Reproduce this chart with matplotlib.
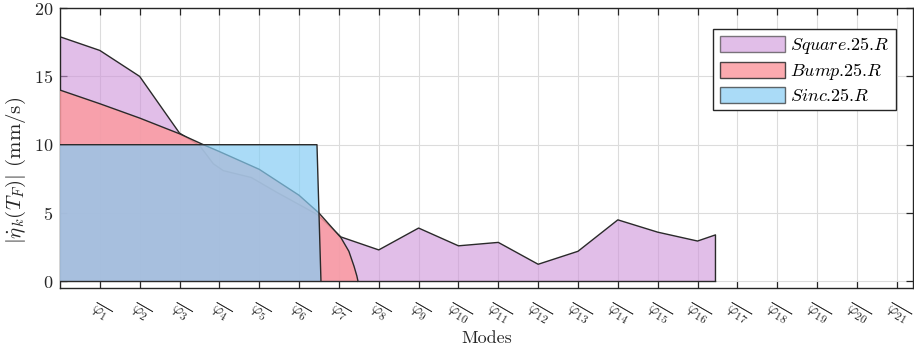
import matplotlib
matplotlib.use("Agg")
import matplotlib.pyplot as plt
from matplotlib.patches import Patch

plt.rcParams['mathtext.fontset'] = 'cm'
plt.rcParams['font.family'] = ['cmr10', 'DejaVu Serif']
plt.rcParams['axes.formatter.use_mathtext'] = True

# ---- data ----
square_x = [0, 1, 2, 3, 3.5, 3.85, 4.1, 4.8, 5.45, 6.45, 7.05, 8, 9, 10, 11, 12, 13, 14, 15, 16, 16.45, 16.45]
square_y = [17.9, 16.9, 15.0, 10.85, 9.95, 8.6, 8.1, 7.6, 6.5, 4.9, 3.25, 2.3, 3.9, 2.6, 2.85, 1.25, 2.2, 4.5, 3.6, 2.95, 3.4, 0]

bump_x = [0, 1, 2, 3, 3.6, 4, 5, 6, 6.5, 7.05, 7.25, 7.38, 7.45, 7.48]
bump_y = [14.0, 13.0, 11.95, 10.8, 10.0, 9.5, 8.2, 6.3, 5.0, 3.2, 2.2, 1.1, 0.4, 0]

sinc_x = [0, 6.45, 6.55]
sinc_y = [10, 10, 0]

labels = ['$Square$.25.$R$', '$Bump$.25.$R$', '$Sinc$.25.$R$']
mode_ticks = list(range(1, 22))
tick_labels = [r'$\overline{\varphi_{%d}}$' % k for k in mode_ticks]
yticks = [0, 5, 10, 15, 20]

# ---- style ----
sq_col, sq_a = (205/255, 147/255, 217/255), 0.6
bu_col, bu_a = (251/255, 155/255, 161/255), 0.85
si_col, si_a = (134/255, 205/255, 244/255), 0.7
edge = '#2a2a2a'

fig = plt.figure(figsize=(9.14, 3.51), dpi=100)
ax = fig.add_axes([0.0656, 0.179, 0.933, 0.798])
ax.set_axisbelow(True)

ax.fill_between(square_x, square_y, 0, facecolor=sq_col, alpha=sq_a, edgecolor='none', zorder=2)
ax.plot(square_x, square_y, color=edge, lw=1.0, zorder=2.1)
ax.fill_between(bump_x, bump_y, 0, facecolor=bu_col, alpha=bu_a, edgecolor='none', zorder=3)
ax.plot(bump_x, bump_y, color=edge, lw=1.0, zorder=3.1)
ax.fill_between(sinc_x, sinc_y, 0, facecolor=si_col, alpha=si_a, edgecolor='none', zorder=4)
ax.plot(sinc_x, sinc_y, color=edge, lw=1.0, zorder=4.1)
ax.plot([0, square_x[-1]], [0, 0], color=edge, lw=1.0, zorder=4.2)

ax.set_xlim(0, 21.4)
ax.set_ylim(-0.5, 20)
ax.set_xticks(mode_ticks)
ax.set_xticklabels(tick_labels, rotation=-30, fontsize=11.5, ha='center')
ax.set_yticks(yticks)
ax.tick_params(axis='both', direction='in', length=5, width=0.9, colors='#262626',
               top=True, right=True)
ax.tick_params(axis='y', labelsize=13, pad=5)
ax.tick_params(axis='x', pad=9)
ax.grid(True, color='#dcdcdc', lw=0.8)
for s in ax.spines.values():
    s.set_color('#262626')
    s.set_linewidth(1.0)

ax.set_ylabel(r'$|\dot{\eta}_k(T_F)|$ (mm/s)', fontsize=15, color='#262626')
ax.yaxis.set_label_coords(-0.037, 0.42)
ax.set_xlabel('Modes', fontsize=13, color='#262626')
ax.xaxis.set_label_coords(0.5, -0.15)

handles = [Patch(facecolor=sq_col, alpha=sq_a, edgecolor=edge),
           Patch(facecolor=bu_col, alpha=bu_a, edgecolor=edge),
           Patch(facecolor=si_col, alpha=si_a, edgecolor=edge)]
leg = ax.legend(handles, labels, loc='upper right', bbox_to_anchor=(0.98, 0.925),
                fontsize=13, handlelength=3.6, handleheight=0.95, labelspacing=0.27,
                handletextpad=0.3, borderpad=0.35, fancybox=False, framealpha=1,
                edgecolor='#262626', borderaxespad=0)
leg.get_frame().set_linewidth(1.0)

fig.savefig('out.png', dpi=100)
